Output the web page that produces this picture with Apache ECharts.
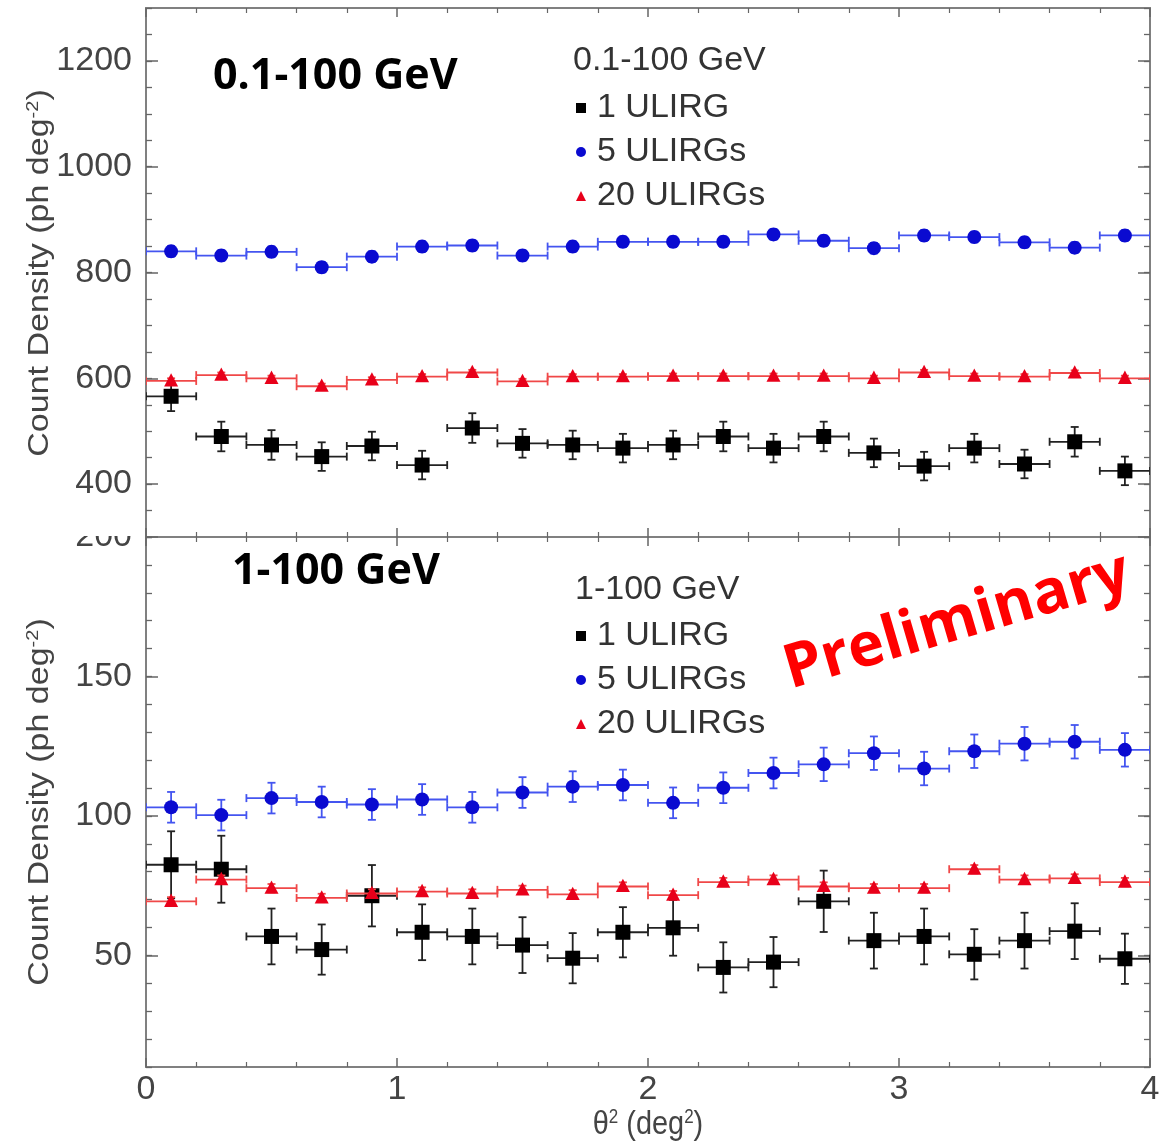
<!DOCTYPE html>
<html>
<head>
<meta charset="utf-8">
<script src="https://cdn.jsdelivr.net/npm/echarts@6/dist/echarts.min.js"></script>
<style>
html,body{margin:0;padding:0;background:#fff;}
#chart{width:1168px;height:1147px;}
</style>
</head>
<body>
<div id="chart"></div>
<script>
// ---- data ----
const thetaSq = [0.1,0.3,0.5,0.7,0.9,1.1,1.3,1.5,1.7,1.9,2.1,2.3,2.5,2.7,2.9,3.1,3.3,3.5,3.7,3.9];
const binHalfWidth = 0.1;
const seriesNames = ['1 ULIRG', '5 ULIRGs', '20 ULIRGs'];

// 0.1-100 GeV panel
const top1 = [566,490,474,452,472,436,506,477,474,468,474,490,468,490,459,434,468,438,480,425];
const top1Err = [28,28,28,27,27,27,28,27,27,27,27,28,27,28,27,27,27,27,28,27];
const top5 = [840,832,839,810,830,849,851,832,849,858,858,858,872,860,846,870,867,857,847,870];
const top5Err = [10,10,10,10,10,10,10,10,10,10,10,10,10,10,10,10,10,10,10,10];
const top20 = [595,606,600,585,597,603,611,594,603,603,604,604,604,604,600,611,604,603,610,600];
const top20Err = [5,5,5,5,5,5,5,5,5,5,5,5,5,5,5,5,5,5,5,5];

// 1-100 GeV panel
const bot1 = [82.5,80.9,56.8,52.1,71.4,58.3,56.8,53.7,49.0,58.3,59.9,45.7,47.6,69.4,55.3,56.8,50.4,55.3,58.7,48.8];
const bot1Err = [12,12,10,9,11,10,10,10,9,9,10,9,9,11,10,10,9,10,10,9];
const bot5 = [103.1,100.3,106.4,105.0,104.1,105.9,103.1,108.4,110.5,111.1,104.7,110.1,115.4,118.5,122.5,117.0,123.2,125.9,126.6,123.7];
const bot5Err = [5.5,5.5,5.5,5.5,5.5,5.5,5.5,5.5,5.5,5.5,5.5,5.5,5.5,6,6,6,6,6,6,6];
const bot20 = [69.4,77.2,74.1,70.6,72.2,72.9,72.2,73.5,71.9,74.7,71.6,76.3,77.2,74.7,74.1,74.1,80.9,77.2,77.6,76.3];
const bot20Err = [1.5,1.5,1.5,1.5,1.5,1.5,1.5,1.5,1.5,1.5,1.5,1.5,1.5,1.5,1.5,1.5,1.5,1.5,1.5,1.5];

// axis ticks / labels
const xLabels = [0,1,2,3,4];
const topYLabels = [400,600,800,1000,1200];
const topYMinor = [300,350,400,450,500,550,600,650,700,750,800,850,900,950,1000,1050,1100,1150,1200,1250,1300];
const botYLabels = [50,100,150,200];
const botYMinor = [10,20,30,40,50,60,70,80,90,100,110,120,130,140,150,160,170,180,190,200];
const topRange = [300, 1300];
const botRange = [10, 200];

// ---- styling ----
const styles = [
  {symbol:'rect', color:'#000000', line:'#222222', size:15},
  {symbol:'circle', color:'#0a0ad0', line:'#4455f0', size:14},
  {symbol:'triangle', color:'#e8001a', line:'#f04848', size:14}
];

function renderer(st) {
  return function (params, api) {
    const x = api.value(0), y = api.value(1), e = api.value(2);
    const pL = api.coord([x - binHalfWidth, y]);
    const pR = api.coord([x + binHalfWidth, y]);
    const pT = api.coord([x, y + e]);
    const pB = api.coord([x, y - e]);
    const c = api.coord([x, y]);
    const cap = 4;
    const ls = {stroke: st.line, lineWidth: 1.8};
    const ch = [
      {type:'line', shape:{x1:pL[0], y1:pL[1], x2:pR[0], y2:pR[1]}, style:ls},
      {type:'line', shape:{x1:pL[0], y1:pL[1]-cap, x2:pL[0], y2:pL[1]+cap}, style:ls},
      {type:'line', shape:{x1:pR[0], y1:pR[1]-cap, x2:pR[0], y2:pR[1]+cap}, style:ls},
      {type:'line', shape:{x1:pT[0], y1:pT[1], x2:pB[0], y2:pB[1]}, style:ls},
      {type:'line', shape:{x1:pT[0]-cap, y1:pT[1], x2:pT[0]+cap, y2:pT[1]}, style:ls},
      {type:'line', shape:{x1:pB[0]-cap, y1:pB[1], x2:pB[0]+cap, y2:pB[1]}, style:ls}
    ];
    const s = st.size;
    if (st.symbol === 'rect') {
      ch.push({type:'rect', shape:{x:c[0]-s/2, y:c[1]-s/2, width:s, height:s}, style:{fill:st.color}});
    } else if (st.symbol === 'circle') {
      ch.push({type:'circle', shape:{cx:c[0], cy:c[1], r:s/2}, style:{fill:st.color}});
    } else {
      ch.push({type:'polygon', shape:{points:[[c[0], c[1]-s*0.55],[c[0]-s/2, c[1]+s*0.4],[c[0]+s/2, c[1]+s*0.4]]}, style:{fill:st.color}});
    }
    return {type:'group', children: ch};
  };
}

function mkSeries(idx, grid, vals, errs) {
  const st = styles[idx];
  return {
    type:'custom', name: seriesNames[idx],
    xAxisIndex: grid*2, yAxisIndex: grid*4,
    itemStyle:{color: st.color},
    renderItem: renderer(st),
    clip: true,
    z: 2 + idx,
    data: thetaSq.map((x,i)=>[x, vals[i], errs[i]])
  };
}

const gridDefs = [
  {left:146, top:8, width:1004, height:529},
  {left:146, top:537, width:1004, height:530}
];

const tickColor = '#666';
function xAx(grid, pos, labels) {
  return {
    type:'value', gridIndex:grid, position:pos, min:0, max:4, interval:1,
    axisLine:{show:false}, splitLine:{show:false},
    axisTick:{show:true, inside:true, length:9, lineStyle:{color:tickColor, width:1.5}},
    minorTick:{show:true, splitNumber:5, length:5, lineStyle:{color:tickColor, width:1.2}},
    axisLabel: labels ? {show:true, customValues:xLabels, margin:6, fontSize:34,
      fontFamily:"'Liberation Sans',Arial,sans-serif", color:'#444', formatter: v => String(v)} : {show:false}
  };
}
function yAxs(grid, range, labels, minor) {
  const res = [];
  ['left','right'].forEach(pos => {
    res.push({
      type:'value', gridIndex:grid, position:pos, min:range[0], max:range[1],
      axisLine:{show:false}, splitLine:{show:false},
      axisTick:{show:true, inside:true, length:6, customValues:minor, lineStyle:{color:tickColor, width:1.3}},
      axisLabel: pos==='left' ? {show:true, customValues:labels, margin:14, fontSize:34,
        fontFamily:"'Liberation Sans',Arial,sans-serif", color:'#444', formatter: v => String(v)} : {show:false}
    });
    res.push({
      type:'value', gridIndex:grid, position:pos, min:range[0], max:range[1],
      axisLine:{show:false}, splitLine:{show:false},
      axisTick:{show:true, inside:true, length:12, customValues:labels, lineStyle:{color:tickColor, width:1.5}},
      axisLabel:{show:false}
    });
  });
  return res;
}

const chart = echarts.init(document.getElementById('chart'), null, {renderer:'canvas'});

const legendCommon = {
  orient:'vertical', itemWidth:10, itemHeight:10, itemGap:10,
  textStyle:{fontSize:34, color:'#333', fontFamily:"'Liberation Sans',Arial,sans-serif", padding:[0,0,0,6]},
  selectedMode:false,
  data:[
    {name:seriesNames[0], icon:'rect'},
    {name:seriesNames[1], icon:'circle'},
    {name:seriesNames[2], icon:'triangle'}
  ]
};

const supStyle = {fontSize:20, verticalAlign:'top', fill:'#444', fontFamily:"'Liberation Sans',Arial,sans-serif", padding:[0,0,16,0]};
const yTitleStyle = {
  text:'Count Density (ph deg{sup|-2})',
  font:"34px 'Liberation Sans',Arial,sans-serif",
  fill:'#444', textAlign:'center', textVerticalAlign:'middle',
  rich:{sup:supStyle}
};

const option = {
  backgroundColor:'#ffffff',
  animation:false,
  grid: gridDefs.map(g => Object.assign({show:true, borderColor:'#808080', borderWidth:2, backgroundColor:'transparent'}, g)),
  xAxis: [xAx(0,'bottom',false), xAx(0,'top',false), xAx(1,'bottom',true), xAx(1,'top',false)],
  yAxis: [].concat(yAxs(0, topRange, topYLabels, topYMinor), yAxs(1, botRange, botYLabels, botYMinor)),
  legend: [
    Object.assign({left:571, top:86}, legendCommon),
    Object.assign({left:571, top:614}, legendCommon)
  ],
  series: [
    mkSeries(0,0,top1,top1Err), mkSeries(1,0,top5,top5Err), mkSeries(2,0,top20,top20Err),
    mkSeries(0,1,bot1,bot1Err), mkSeries(1,1,bot5,bot5Err), mkSeries(2,1,bot20,bot20Err)
  ],
  graphic: [
    {type:'rect', z:100, shape:{x:40, y:518, width:100, height:18}, style:{fill:'#fff'}},
    {type:'text', z:100, x:213, y:77, style:{text:'0.1-100 GeV', font:"bold 43px 'Open Sans',sans-serif", fill:'#000', textAlign:'left', textVerticalAlign:'middle'}},
    {type:'text', z:100, x:232, y:572, style:{text:'1-100 GeV', font:"bold 43px 'Open Sans',sans-serif", fill:'#000', textAlign:'left', textVerticalAlign:'middle'}},
    {type:'text', z:100, x:573, y:61, style:{text:'0.1-100 GeV', font:"34px 'Liberation Sans',Arial,sans-serif", fill:'#333', textAlign:'left', textVerticalAlign:'middle'}},
    {type:'text', z:100, x:575, y:590, style:{text:'1-100 GeV', font:"34px 'Liberation Sans',Arial,sans-serif", fill:'#333', textAlign:'left', textVerticalAlign:'middle'}},
    {type:'text', z:100, x:957, y:622, rotation:0.284, style:{text:'Preliminary', font:"bold 61px 'Open Sans',sans-serif", fill:'#ff0000', textAlign:'center', textVerticalAlign:'middle'}},
    {type:'text', z:100, x:40, y:273, rotation:Math.PI/2, scaleY:0.85, style:yTitleStyle},
    {type:'text', z:100, x:40, y:802, rotation:Math.PI/2, scaleY:0.85, style:yTitleStyle},
    {type:'text', z:100, x:648, y:1125, scaleX:0.85, style:{text:'θ{sup|2} (deg{sup|2})', font:"34px 'Liberation Sans',Arial,sans-serif", fill:'#444', textAlign:'center', textVerticalAlign:'middle',
      rich:{sup:supStyle}}}
  ]
};
chart.setOption(option);
</script>
</body>
</html>
